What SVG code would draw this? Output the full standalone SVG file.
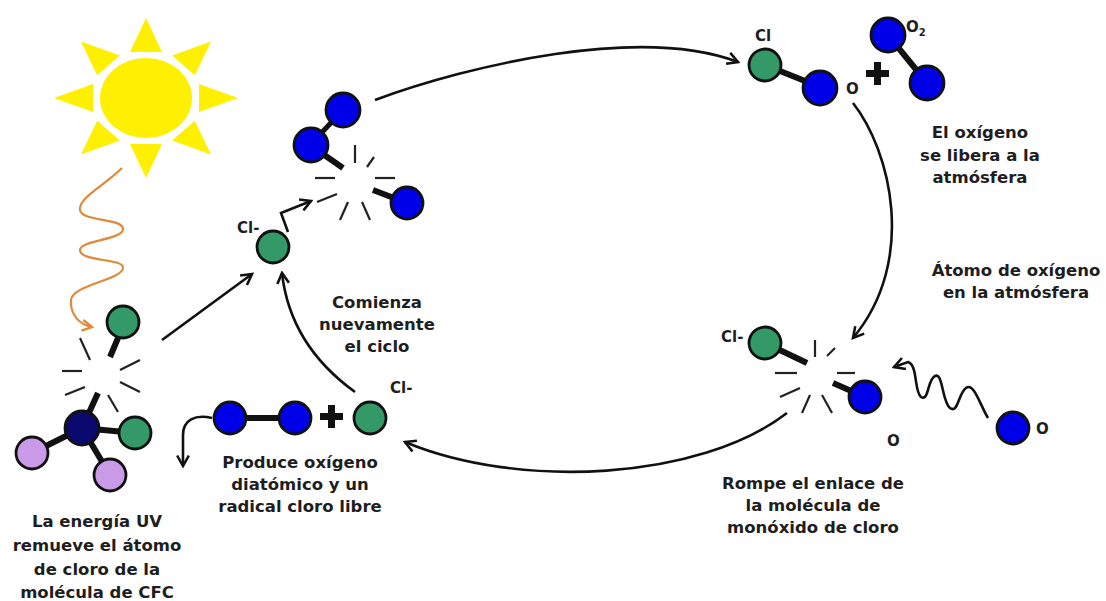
<svg xmlns="http://www.w3.org/2000/svg" width="1106" height="601" viewBox="0 0 1106 601">
  <defs>
    <style>
      .lbl { font-family: "DejaVu Sans", Verdana, sans-serif; font-weight: bold; font-size: 16.5px; fill: #1e1e1e; text-anchor: middle; }
      .sym { font-family: "DejaVu Sans", Verdana, sans-serif; font-weight: bold; font-size: 15px; fill: #1e1e1e; }
      .green { fill: #339966; stroke: #111; stroke-width: 2.8; }
      .blue { fill: #0000e8; stroke: #111; stroke-width: 2.8; }
      .navy { fill: #0a0a6e; stroke: #111; stroke-width: 2.8; }
      .lilac { fill: #c99ae8; stroke: #111; stroke-width: 2.8; }
      .bond { stroke: #111; stroke-width: 6; stroke-linecap: butt; }
      .dash { stroke: #222; stroke-width: 2.2; stroke-linecap: butt; }
      .conn { fill: none; stroke: #111; stroke-width: 2.6; }
      .plus { fill: #111; }
    </style>
    <marker id="arrow" viewBox="0 0 12 12" refX="10" refY="6" markerWidth="14" markerHeight="14" markerUnits="userSpaceOnUse" orient="auto">
      <path d="M1,1 L10,6 L1,11" fill="none" stroke="#111" stroke-width="2.2"/>
    </marker>
    <marker id="arrowOrange" viewBox="0 0 12 12" refX="10" refY="6" markerWidth="13" markerHeight="13" markerUnits="userSpaceOnUse" orient="auto">
      <path d="M1,1 L10,6 L1,11" fill="none" stroke="#e0893a" stroke-width="2.2"/>
    </marker>
    <polygon id="ray" points="0,-92 -16,-53 16,-53"/>
  </defs>

  <rect width="1106" height="601" fill="#ffffff"/>

  <!-- Sun -->
  <g id="sun" transform="translate(146,98) scale(1,0.87)" fill="#ffef00">
    <circle r="46"/>
    <use href="#ray"/>
    <use href="#ray" transform="rotate(45)"/>
    <use href="#ray" transform="rotate(90)"/>
    <use href="#ray" transform="rotate(135)"/>
    <use href="#ray" transform="rotate(180)"/>
    <use href="#ray" transform="rotate(225)"/>
    <use href="#ray" transform="rotate(270)"/>
    <use href="#ray" transform="rotate(315)"/>
  </g>

  <!-- Connectors -->
  <g id="connectors">
    <path id="uv-wave" d="M122,168 C105,185 78,198 80,210 C82,222 123,218 123,229 C123,240 80,240 80,250 C80,262 124,258 123,268 C122,280 72,285 71,300 C70,315 80,325 92,327" fill="none" stroke="#e0893a" stroke-width="2.2" marker-end="url(#arrowOrange)"/>
    <path d="M162,340 L252,274" class="conn" marker-end="url(#arrow)"/>
    <path d="M288,232 L281,213 L311,201" class="conn" marker-end="url(#arrow)"/>
    <path d="M375,100 C470,65 640,25 738,62" class="conn" marker-end="url(#arrow)"/>
    <path d="M853,103 C890,150 918,260 853,338" class="conn" marker-end="url(#arrow)"/>
    <path d="M787,413 C700,480 520,490 405,442" class="conn" marker-end="url(#arrow)"/>
    <path d="M355,392 Q290,345 282,273" class="conn" marker-end="url(#arrow)"/>
    <path d="M212,418 C195,414 183,420 183,435 L183,466" class="conn" marker-end="url(#arrow)"/>
    <path d="M988,418 C980,405 974,382 966,388 C958,394 958,414 950,408 C942,402 943,372 935,376 C927,380 929,402 921,397 C914,392 918,365 908,362 L894,367" class="conn" marker-end="url(#arrow)"/>
  </g>

  <!-- CFC molecule losing a chlorine atom -->
  <g id="cfc">
    <line x1="80" y1="338" x2="90" y2="360" class="dash"/>
    <line x1="62" y1="371" x2="82" y2="371" class="dash"/>
    <line x1="65" y1="395" x2="85" y2="387" class="dash"/>
    <line x1="120" y1="370" x2="140" y2="360" class="dash"/>
    <line x1="120" y1="382" x2="140" y2="392" class="dash"/>
    <line x1="108" y1="395" x2="118" y2="412" class="dash"/>
    <line x1="110" y1="357" x2="118" y2="338" class="bond"/>
    <line x1="98" y1="393" x2="82" y2="428" class="bond"/>
    <line x1="82" y1="428" x2="32" y2="453" class="bond"/>
    <line x1="82" y1="428" x2="135" y2="433" class="bond"/>
    <line x1="82" y1="428" x2="110" y2="475" class="bond"/>
    <circle cx="123" cy="322" r="16" class="green"/>
    <circle cx="32" cy="453" r="16" class="lilac"/>
    <circle cx="110" cy="475" r="16" class="lilac"/>
    <circle cx="135" cy="433" r="16" class="green"/>
    <circle cx="82" cy="428" r="17" class="navy"/>
    <text class="lbl" x="97" y="527">La energía UV</text>
    <text class="lbl" x="97" y="551">remueve el átomo</text>
    <text class="lbl" x="97" y="575">de cloro de la</text>
    <text class="lbl" x="97" y="598">molécula de CFC</text>
  </g>

  <!-- Free chlorine radical -->
  <g id="cl-radical">
    <circle cx="273" cy="247" r="16" class="green"/>
    <text class="sym" x="237" y="233">Cl-</text>
  </g>

  <!-- Ozone being broken apart -->
  <g id="ozone-break">
    <line x1="355" y1="145" x2="355" y2="163" class="dash"/>
    <line x1="367" y1="167" x2="374" y2="157" class="dash"/>
    <line x1="315" y1="178" x2="335" y2="178" class="dash"/>
    <line x1="375" y1="178" x2="395" y2="178" class="dash"/>
    <line x1="317" y1="202" x2="337" y2="194" class="dash"/>
    <line x1="340" y1="220" x2="348" y2="202" class="dash"/>
    <line x1="362" y1="202" x2="370" y2="220" class="dash"/>
    <line x1="310" y1="145" x2="343" y2="168" class="bond"/>
    <line x1="310" y1="145" x2="343" y2="110" class="bond" style="stroke-width:5"/>
    <line x1="373" y1="190" x2="407" y2="203" class="bond"/>
    <circle cx="343" cy="110" r="17" class="blue"/>
    <circle cx="311" cy="145" r="17" class="blue"/>
    <circle cx="407" cy="203" r="16" class="blue"/>
  </g>

  <!-- Chlorine monoxide plus O2 -->
  <g id="clo-o2">
    <line x1="765" y1="65" x2="820" y2="87" class="bond"/>
    <circle cx="765" cy="65" r="16" class="green"/>
    <circle cx="820" cy="88" r="17" class="blue"/>
    <text class="sym" x="755" y="41">Cl</text>
    <text class="sym" x="846" y="94">O</text>
    <path d="M874,62 h7 v8 h8 v7 h-8 v8 h-7 v-8 h-8 v-7 h8 z" class="plus"/>
    <line x1="888" y1="35" x2="927" y2="83" class="bond"/>
    <circle cx="888" cy="35" r="17" class="blue"/>
    <circle cx="927" cy="83" r="17" class="blue"/>
    <text class="sym" x="906" y="32">O<tspan font-size="10" dy="4">2</tspan></text>
    <text class="lbl" x="980" y="138">El oxígeno</text>
    <text class="lbl" x="980" y="161">se libera a la</text>
    <text class="lbl" x="980" y="183">atmósfera</text>
  </g>

  <!-- Atmospheric oxygen atom -->
  <g id="free-o">
    <text class="lbl" x="1016" y="276">Átomo de oxígeno</text>
    <text class="lbl" x="1016" y="298">en la atmósfera</text>
    <circle cx="1013" cy="428" r="16" class="blue"/>
    <text class="sym" x="1036" y="434">O</text>
  </g>

  <!-- ClO bond breaking -->
  <g id="clo-break">
    <line x1="815" y1="340" x2="815" y2="357" class="dash"/>
    <line x1="827" y1="356" x2="835" y2="348" class="dash"/>
    <line x1="775" y1="373" x2="797" y2="373" class="dash"/>
    <line x1="837" y1="373" x2="855" y2="373" class="dash"/>
    <line x1="780" y1="397" x2="800" y2="388" class="dash"/>
    <line x1="802" y1="413" x2="810" y2="395" class="dash"/>
    <line x1="822" y1="395" x2="832" y2="413" class="dash"/>
    <line x1="765" y1="343" x2="807" y2="363" class="bond"/>
    <line x1="833" y1="383" x2="865" y2="397" class="bond"/>
    <circle cx="765" cy="343" r="16" class="green"/>
    <circle cx="865" cy="397" r="16" class="blue"/>
    <text class="sym" x="721" y="342">Cl-</text>
    <text class="sym" x="887" y="446">O</text>
    <text class="lbl" x="813" y="489">Rompe el enlace de</text>
    <text class="lbl" x="813" y="511">la molécula de</text>
    <text class="lbl" x="813" y="533">monóxido de cloro</text>
  </g>

  <!-- O2 and regenerated chlorine -->
  <g id="o2-cl">
    <line x1="230" y1="418" x2="295" y2="418" class="bond"/>
    <circle cx="230" cy="418" r="16" class="blue"/>
    <circle cx="295" cy="418" r="16" class="blue"/>
    <path d="M328,405 h7 v8 h8 v7 h-8 v8 h-7 v-8 h-8 v-7 h8 z" class="plus"/>
    <circle cx="370" cy="418" r="16" class="green"/>
    <text class="sym" x="390" y="393">Cl-</text>
    <text class="lbl" x="300" y="468">Produce oxígeno</text>
    <text class="lbl" x="300" y="490">diatómico y un</text>
    <text class="lbl" x="300" y="512">radical cloro libre</text>
  </g>

  <!-- Cycle restart label -->
  <g id="restart">
    <text class="lbl" x="377" y="308">Comienza</text>
    <text class="lbl" x="377" y="330">nuevamente</text>
    <text class="lbl" x="377" y="352">el ciclo</text>
  </g>
</svg>
